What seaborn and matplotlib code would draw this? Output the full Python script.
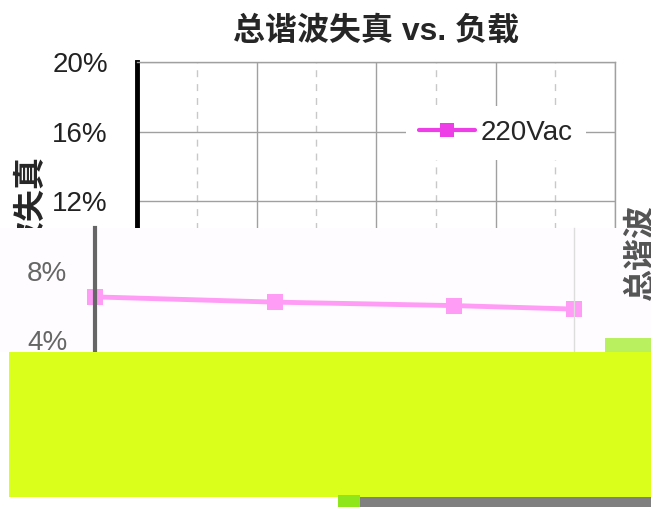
import matplotlib
matplotlib.use("Agg")
import matplotlib.pyplot as plt
import seaborn as sns
from matplotlib.patches import Rectangle
from matplotlib.ticker import FixedLocator, FuncFormatter

# %% data
load = [20, 50, 80, 100]
thd = [6.5, 6.2, 6.0, 5.8]
series_name = "220Vac"
y_ticks = [0, 4, 8, 12, 16, 20]

# %% figure setup
sns.set_style("white")
plt.rcParams["font.family"] = ["Liberation Sans", "Noto Sans CJK SC", "DejaVu Sans"]

W, H = 651, 507
fig = plt.figure(figsize=(W / 100, H / 100), dpi=100)
fig.patch.set_facecolor("white")


def px_rect(x0, y0, x1, y1):
    return [x0 / W, 1 - y1 / H, (x1 - x0) / W, (y1 - y0) / H]


pct = FuncFormatter(lambda v, p: f"{v:.0f}%")
# labels below 12% sit under the overlay band, so only the visible ones are written
pct_top = FuncFormatter(lambda v, p: f"{v:.0f}%" if v >= 12 else "")

# %% main chart
ax = fig.add_axes(px_rect(137, 62, 615, 410))
sns.lineplot(x=load, y=thd, ax=ax, marker="s", color="#ee3ee8", linewidth=3,
             markersize=10, markeredgewidth=0, label=series_name)
ax.set_xlim(20, 100)
ax.set_ylim(0, 20)
ax.yaxis.set_major_locator(FixedLocator(y_ticks))
ax.yaxis.set_major_formatter(pct_top)
ax.xaxis.set_major_locator(FixedLocator([20, 40, 60, 80, 100]))
ax.xaxis.set_minor_locator(FixedLocator([30, 50, 70, 90]))
ax.set_xticklabels([])
ax.grid(True, which="major", axis="both", color="#a0a0a0", linewidth=1, linestyle="-")
ax.grid(True, which="minor", axis="x", color="#c8c8c8", linewidth=1, linestyle=(0, (5, 5)))
ax.tick_params(axis="y", direction="in", length=7, width=3, labelsize=20, pad=21,
               colors="black", labelcolor="#222222")
for side in ["top", "right", "bottom"]:
    ax.spines[side].set_color("#a0a0a0")
    ax.spines[side].set_linewidth(1)
ax.spines["left"].set_color("black")
ax.spines["left"].set_linewidth(3.5)
ax.set_xlabel("")
ax.set_ylabel("总谐波失真", fontsize=23, fontweight="bold", labelpad=4)
ax.set_title("总谐波失真 vs. 负载", fontsize=23, fontweight="bold", pad=16)
leg = ax.legend(loc="center", bbox_to_anchor=(0.751, 0.796), fontsize=20, frameon=True,
                facecolor="white", edgecolor="none", framealpha=1, handlelength=2.0,
                handletextpad=0.2, borderpad=0.5, borderaxespad=0)

# %% band overlay (shifted faded copy)
fig.add_artist(Rectangle((0, 1 - 352 / H), 1, 124 / H, transform=fig.transFigure,
                         facecolor="#fffcff", edgecolor="none", zorder=1))
lo = (410 - 352) / 17.4
hi = (410 - 228) / 17.4
ax2 = fig.add_axes(px_rect(95, 228, 574, 352), zorder=2)
ax2.set_facecolor("none")
sns.lineplot(x=load, y=thd, ax=ax2, marker="s", color="#ff9cf5", linewidth=3.5,
             markersize=12, markeredgewidth=0, legend=False, clip_on=False)
ax2.set_xlim(20, 100)
ax2.set_ylim(lo, hi)
ax2.yaxis.set_major_locator(FixedLocator([4, 8]))
ax2.yaxis.set_major_formatter(pct)
ax2.set_xticks([])
ax2.tick_params(axis="y", direction="in", length=6, width=3, labelsize=20, pad=20,
                colors="#666666", labelcolor="#666666")
for side in ["top", "bottom"]:
    ax2.spines[side].set_visible(False)
ax2.spines["right"].set_color("#dddddd")
ax2.spines["right"].set_linewidth(1)
ax2.spines["left"].set_color("#666666")
ax2.spines["left"].set_linewidth(3)
ax2.set_xlabel("")
ax2.set_ylabel("")

fig.text(642 / W, 1 - 253 / H, "总谐波", rotation=90, ha="center", va="center",
         fontsize=23, fontweight="bold", color="#555555", zorder=3)
fig.add_artist(Rectangle((605 / W, 1 - 352 / H), 46 / W, 14 / H, transform=fig.transFigure,
                         facecolor="#b8f060", edgecolor="none", zorder=3))

# %% yellow-green block and bottom bar
fig.add_artist(Rectangle((9 / W, 1 - 497 / H), (W - 9) / W, 145 / H, transform=fig.transFigure,
                         facecolor="#d9ff1a", edgecolor="none", zorder=4))
fig.add_artist(Rectangle((360 / W, 0), (W - 360) / W, 10 / H, transform=fig.transFigure,
                         facecolor="#808080", edgecolor="none", zorder=4))
fig.add_artist(Rectangle((338 / W, 0), 22 / W, 12 / H, transform=fig.transFigure,
                         facecolor="#8fe61a", edgecolor="none", zorder=4))

fig.savefig("out.png", dpi=100)
